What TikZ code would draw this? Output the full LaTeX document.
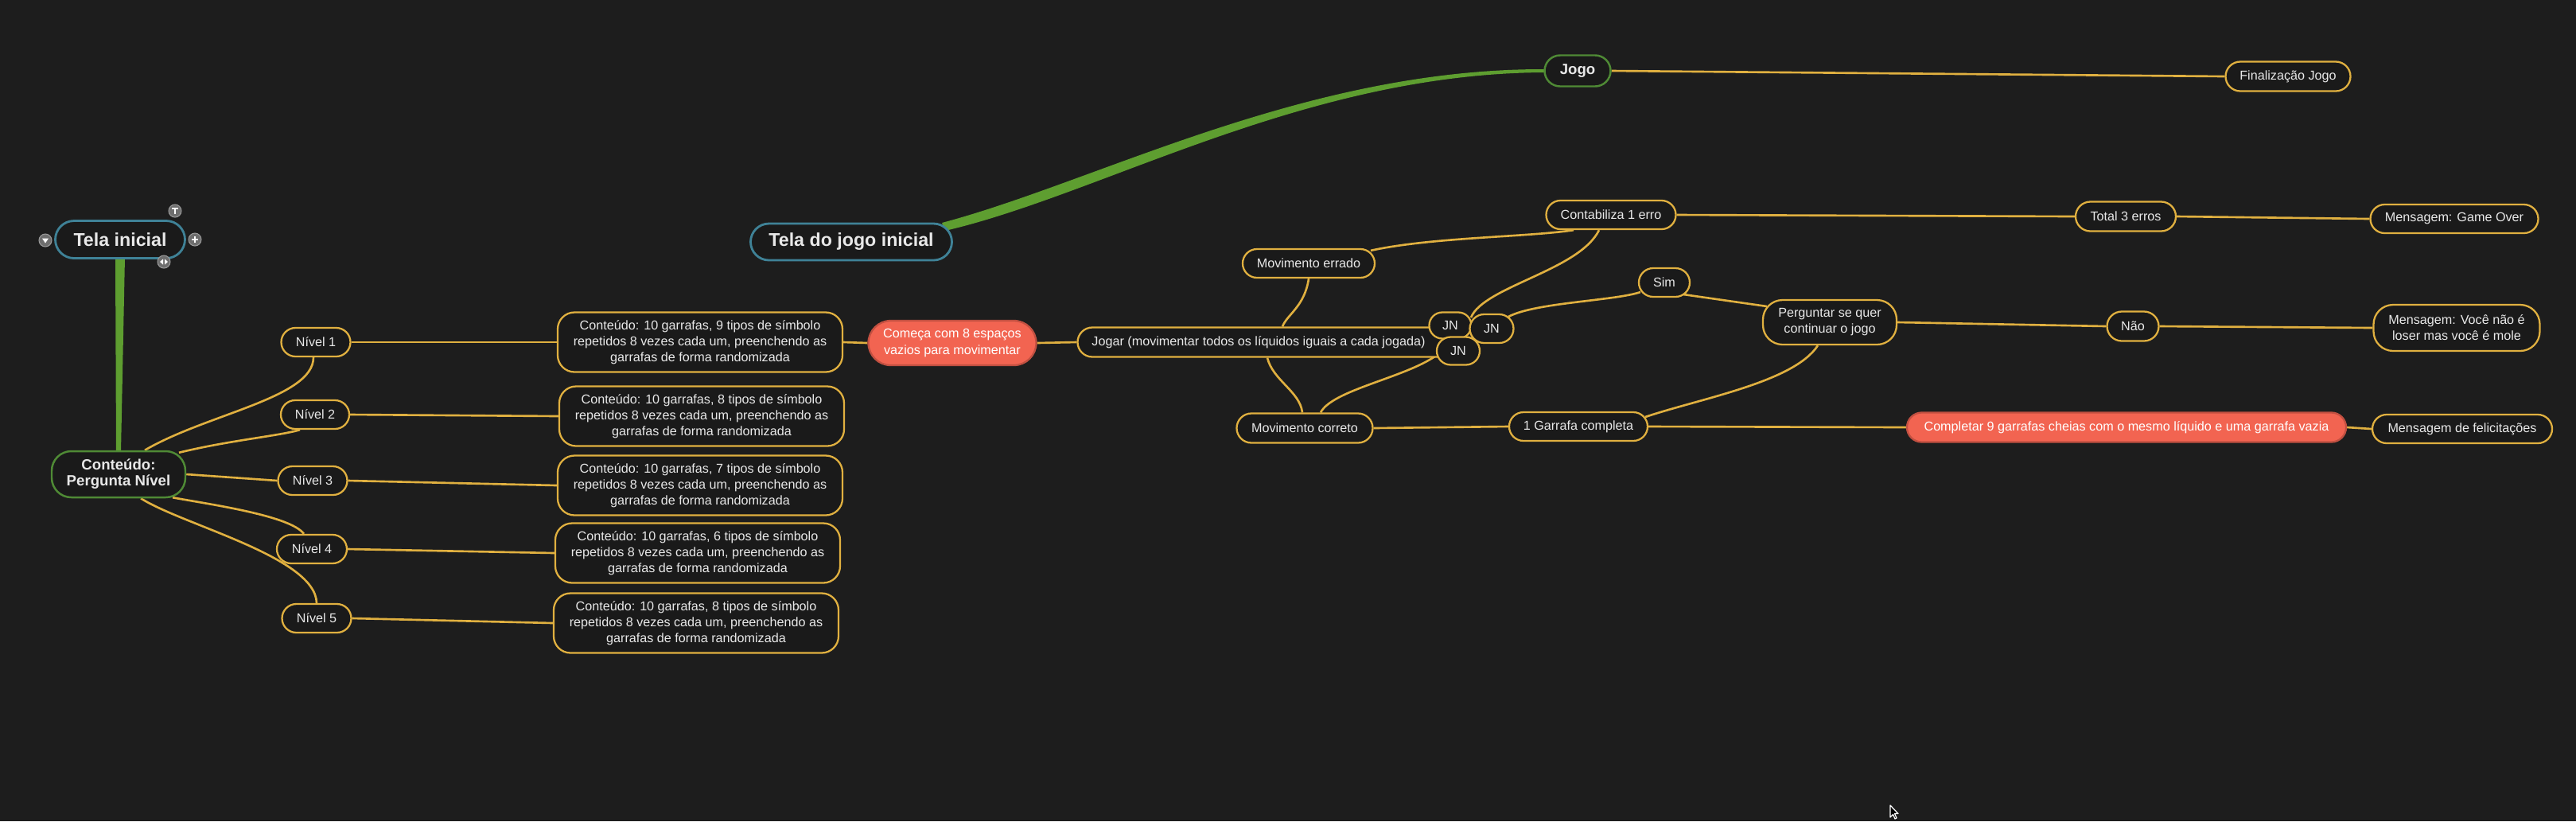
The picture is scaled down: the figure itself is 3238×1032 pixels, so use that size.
\documentclass[tikz,border=0pt]{standalone}
\usepackage{fontspec}
\setmainfont{Liberation Sans}
\usetikzlibrary{shapes.misc,calc}
\definecolor{bgc}{HTML}{1D1D1D}
\definecolor{nodec}{HTML}{1A1A1A}
\definecolor{ylw}{HTML}{E0B040}
\definecolor{tealb}{HTML}{3F8297}
\definecolor{grnb}{HTML}{4F8A35}
\definecolor{grnl}{HTML}{5E9E30}
\definecolor{redf}{HTML}{F26451}
\definecolor{txtc}{HTML}{E8E8E8}
\definecolor{icong}{HTML}{6E6E6E}
\newcommand\fsA{\fontsize{4.6}{5.7}\selectfont}
\newcommand\fsB{\bfseries\fontsize{6.6}{8}\selectfont}
\newcommand\fsC{\bfseries\fontsize{5.3}{5.7}\selectfont}
\pgfdeclarelayer{back}
\pgfdeclarelayer{edges}
\pgfsetlayers{back,edges,main}
\begin{document}
\begin{tikzpicture}[x=0.01cm,y=-0.01cm,
  sz/.style 2 args={minimum width=#1*0.01cm, minimum height=#2*0.01cm},
  pill/.style={rounded rectangle, draw=ylw, fill=nodec, line width=0.65pt, text=txtc, font=\fsA, inner sep=0pt},
  box/.style={rectangle, rounded corners=6pt, draw=ylw, fill=nodec, line width=0.65pt, text=txtc, font=\fsA, inner sep=0pt, align=center},
  redpill/.style={pill, fill=redf, draw=redf!80!black, text=white},
  rootpill/.style={pill, draw=tealb, line width=0.8pt, font=\fsB},
  grnpill/.style={pill, draw=grnb, line width=0.7pt, font=\fsC},
  edge/.style={draw=ylw, line width=0.75pt},
  icon/.style={circle, fill=icong, draw=gray!80, line width=0.3pt, minimum size=0.16cm, inner sep=0pt},
  glyph/.style={draw=white, line width=0.55pt}]

\begin{pgfonlayer}{back}
\useasboundingbox[fill=bgc] (0,0) rectangle (3238,1032);
\end{pgfonlayer}

% ---- left tree ----
\node[rootpill, sz={163}{47}] (telaini) at (151,301) {Tela inicial};
\node[box, draw=grnb, line width=0.7pt, font=\fsC, rounded corners=7pt, sz={168}{58}] (pn) at (149,596) {Conteúdo:\\Pergunta Nível};

\node[pill, sz={87}{36}] (n1) at (397,430) {Nível 1};
\node[pill, sz={86}{36}] (n2) at (396,521) {Nível 2};
\node[pill, sz={87}{36}] (n3) at (393,604) {Nível 3};
\node[pill, sz={88}{36}] (n4) at (392,690) {Nível 4};
\node[pill, sz={87}{36}] (n5) at (398,777) {Nível 5};

\node[box, sz={358}{75}] (c1) at (880,430) {Conteúdo: 10 garrafas, 9 tipos de símbolo\\repetidos 8 vezes cada um, preenchendo as\\garrafas de forma randomizada};
\node[box, sz={358}{75}] (c2) at (882,523) {Conteúdo: 10 garrafas, 8 tipos de símbolo\\repetidos 8 vezes cada um, preenchendo as\\garrafas de forma randomizada};
\node[box, sz={358}{75}] (c3) at (880,610) {Conteúdo: 10 garrafas, 7 tipos de símbolo\\repetidos 8 vezes cada um, preenchendo as\\garrafas de forma randomizada};
\node[box, sz={358}{75}] (c4) at (877,695) {Conteúdo: 10 garrafas, 6 tipos de símbolo\\repetidos 8 vezes cada um, preenchendo as\\garrafas de forma randomizada};
\node[box, sz={358}{75}] (c5) at (875,783) {Conteúdo: 10 garrafas, 8 tipos de símbolo\\repetidos 8 vezes cada um, preenchendo as\\garrafas de forma randomizada};

\node[box, fill=redf, draw=redf!80!black, text=white, rounded corners=8pt, sz={211}{56}] (comeca) at (1197,431) {Começa com 8 espaços\\vazios para movimentar};

% ---- right part ----
\node[rootpill, sz={253}{46}] (telajogo) at (1070,304) {Tela do jogo inicial};
\node[grnpill, sz={83}{39}] (jogo) at (1983,89) {Jogo};
\node[pill, sz={157}{37}] (final) at (2876,96) {Finalização Jogo};

\node[pill, sz={475}{37}] (jogar) at (1592,430) {Jogar (movimentar todos os líquidos iguais a cada jogada)\hspace*{0.2cm}};
\node[pill, sz={53}{33}] (jn1) at (1823,409) {JN};
\node[pill, sz={55}{36}] (jn2) at (1875,413) {JN};
\node[pill, sz={54}{35}] (jn3) at (1833,441) {JN};

\node[pill, sz={166}{36}] (merr) at (1645,331) {Movimento errado};
\node[pill, sz={163}{36}] (cont) at (2025,270) {Contabiliza 1 erro};
\node[pill, sz={126}{37}] (total) at (2672,272) {Total 3 erros};
\node[pill, sz={211}{36}] (gameover) at (3085,275) {Mensagem: Game Over};
\node[pill, sz={64}{36}] (sim) at (2092,355) {Sim};
\node[box, rounded corners=7pt, sz={168}{56}] (perg) at (2300,405) {Perguntar se quer\\continuar o jogo};
\node[pill, sz={65}{37}] (nao) at (2681,410) {Não};
\node[box, rounded corners=7pt, sz={209}{58}] (msgv) at (3088,412) {Mensagem: Você não é\\loser mas você é mole};
\node[pill, sz={171}{37}] (mcor) at (1640,538) {Movimento correto};
\node[pill, sz={174}{36}] (garr) at (1984,536) {1 Garrafa completa};
\node[redpill, sz={552}{37}] (compl) at (2673,537) {Completar 9 garrafas cheias com o mesmo líquido e uma garrafa vazia};
\node[pill, sz={226}{36}] (felic) at (3095,539) {Mensagem de felicitações};

% ---- connectors ----
\begin{pgfonlayer}{edges}
\fill[grnl] ($(telaini.south)+(-6,-2)$) -- ($(telaini.south)+(6,-2)$) -- ($(pn.north)+(3,2)$) -- ($(pn.north)+(-3,2)$) -- cycle;
\fill[grnl] ($(telajogo.center)+(114,-24)$) .. controls (1380,228) and (1640,86) .. ($(jogo.west)+(2,-2)$)
  -- ($(jogo.west)+(2,2)$) .. controls (1640,92) and (1386,244) .. ($(telajogo.center)+(118,-14)$) -- cycle;

\draw[edge] ($(pn.north)+(33,0)$) .. controls (260,520) and (394,500) .. ($(n1.south)+(-3,0)$);
\draw[edge] ($(pn.north)+(76,3)$) .. controls (290,553) and (350,548) .. ($(n2.south)+(-19,0)$);
\draw[edge] (pn.east) -- (n3.west);
\draw[edge] ($(pn.south)+(68,-1)$) .. controls (265,634) and (365,648) .. ($(n4.north)+(-10,0)$);
\draw[edge] ($(pn.south)+(28,0)$) .. controls (230,660) and (397,700) .. (n5.north);

\draw[edge] (n1.east) -- (c1.west);
\draw[edge] (n2.east) -- (c2.west);
\draw[edge] (n3.east) -- (c3.west);
\draw[edge] (n4.east) -- (c4.west);
\draw[edge] (n5.east) -- (c5.west);
\draw[edge] (c1.east) -- (comeca.west);
\draw[edge] (comeca.east) -- (jogar.west);

\draw[edge] (merr.south) .. controls (1640,385) and (1618,395) .. ($(jogar.north)+(20,0)$);
\draw[edge] ($(merr.north)+(78,3)$) .. controls (1800,298) and (1920,298) .. ($(cont.south)+(-47,0)$);
\draw[edge] ($(cont.south)+(-15,0)$) .. controls (1985,340) and (1865,360) .. ($(jn2.center)+(-26,-14)$);
\draw[edge] ($(jn2.center)+(21,-15)$) .. controls (1930,380) and (2030,378) .. ($(sim.center)+(-30,12)$);
\draw[edge] ($(sim.center)+(24,15)$) -- ($(perg.center)+(-79,-20)$);
\draw[edge] (perg.east) -- (nao.west);
\draw[edge] (nao.east) -- (msgv.west);
\draw[edge] ($(perg.south)+(-15,0)$) .. controls (2255,480) and (2140,500) .. ($(garr.center)+(84,-12)$);
\draw[edge] ($(jogar.south)+(1,0)$) .. controls (1600,478) and (1634,492) .. ($(mcor.north)+(-3,0)$);
\draw[edge] ($(jn3.center)+(-28,6)$) .. controls (1765,475) and (1675,490) .. ($(mcor.north)+(20,0)$);
\draw[edge] (mcor.east) -- (garr.west);
\draw[edge] (garr.east) -- (compl.west);
\draw[edge] (compl.east) -- (felic.west);
\draw[edge] (cont.east) -- (total.west);
\draw[edge] (total.east) -- (gameover.west);
\draw[edge] (jogo.east) -- (final.west);
\end{pgfonlayer}

% ---- handle icons around Tela inicial ----
\node[icon] (ict) at (220,265) {};
\node[icon] (icp) at (245,301) {};
\node[icon] (icd) at (57,302) {};
\node[icon] (ics) at (206,329) {};
\draw[glyph] ($(ict)+(-4,-3)$) -- ($(ict)+(4,-3)$) ($(ict)+(0,-3)$) -- ($(ict)+(0,4)$);
\draw[glyph] ($(icp)+(-4,0)$) -- ($(icp)+(4,0)$) ($(icp)+(0,-4)$) -- ($(icp)+(0,4)$);
\fill[white] ($(icd)+(-4,-2.5)$) -- ($(icd)+(4,-2.5)$) -- ($(icd)+(0,3.5)$) -- cycle;
\fill[white] ($(ics)+(-1,-3.5)$) -- ($(ics)+(-1,3.5)$) -- ($(ics)+(-5,0)$) -- cycle;
\fill[white] ($(ics)+(1,-3.5)$) -- ($(ics)+(1,3.5)$) -- ($(ics)+(5,0)$) -- cycle;

% ---- mouse pointer ----
\draw[white, fill=black, line width=0.35pt, line join=round] (2376,1012) -- (2376,1027) -- (2379.5,1023.5) -- (2382,1029) -- (2384,1028) -- (2381.5,1022.5) -- (2386,1022.5) -- cycle;
\end{tikzpicture}
\end{document}
